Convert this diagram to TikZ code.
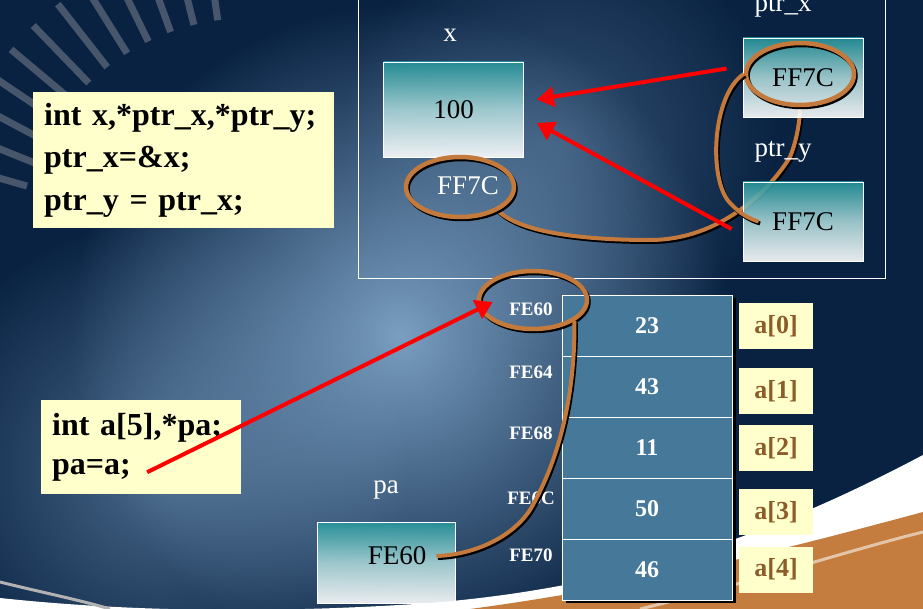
\documentclass[tikz,border=0pt]{standalone}
\usepackage{fontspec}
\setmainfont{Liberation Serif}
\usetikzlibrary{arrows.meta,shapes,fadings}

\definecolor{slidebg}{RGB}{9,34,66}
\definecolor{glow}{RGB}{150,190,225}
\definecolor{notepaper}{RGB}{255,255,204}
\definecolor{cellblue}{RGB}{69,120,153}
\definecolor{tealtop}{RGB}{38,148,154}
\definecolor{rope}{RGB}{196,122,60}
\definecolor{idxbrown}{RGB}{140,92,42}
\definecolor{swoosh}{RGB}{196,125,62}

\tikzfading[name=glowfade,inner color=transparent!0,outer color=transparent!100]

\pgfdeclarelayer{back}
\pgfsetlayers{back,main}

\begin{document}
\begin{tikzpicture}
  [x=1pt,y=-1pt,every node/.style={inner sep=0pt},
   codebox/.style={fill=notepaper,align=left,inner xsep=11pt,
     font=\fontsize{32}{42.5}\selectfont\bfseries},
   varbox/.style={draw=white,line width=.8pt,top color=tealtop,bottom color=white,
     middle color=tealtop!40!white,fill opacity=.9,text opacity=1,
     minimum width=140pt,minimum height=95pt,font=\fontsize{27}{30}\selectfont},
   tag/.style={text=white,font=\fontsize{27}{30}\selectfont},
   addr/.style={text=white,font=\fontsize{19}{20}\selectfont\bfseries},
   cellbox/.style={draw=white,line width=.8pt,fill=cellblue,text=white,
     minimum width=170pt,minimum height=61pt,font=\fontsize{24}{26}\selectfont\bfseries,
     preaction={fill=black,transform canvas={shift={(4pt,-3pt)}}}},
   idx/.style={fill=notepaper,text=idxbrown,minimum width=74pt,minimum height=46pt,
     font=\fontsize{26}{28}\selectfont\bfseries},
   ring/.style={ellipse,draw=rope,line width=4.5pt,minimum width=108pt,minimum height=60pt,
     preaction={draw=black,line width=4.5pt,transform canvas={shift={(1.5pt,-2pt)}}}},
   link/.style={draw=rope,line width=4pt,
     preaction={draw=black,line width=4pt,transform canvas={shift={(1.5pt,-2pt)}}}},
   ptrarrow/.style={draw=red,line width=4pt,arrows={-{Triangle[length=17pt,width=20pt]}}}]

  \useasboundingbox (0,0) rectangle (923,609);
  \clip (0,0) rectangle (923,609);

  % slide background
  \begin{pgfonlayer}{back}
  \fill[slidebg] (0,0) rectangle (923,609);
  \fill[glow,path fading=glowfade,opacity=.8] (400,335) circle (330pt);
  \fill[glow,path fading=glowfade,opacity=.45] (160,470) circle (250pt);
  \fill[glow,path fading=glowfade,opacity=.3] (560,140) circle (220pt);
  \foreach \a in {196,202,...,262}
    \draw[gray!70,opacity=.4,line width=7pt] (250,250) ++(\a:232) -- ++(\a:80);
  \fill[white] (0,609) -- (0,598) .. controls (150,614) and (300,612) .. (430,603)
    .. controls (650,585) and (800,520) .. (923,455) -- (923,609) -- cycle;
  \fill[swoosh] (470,609) .. controls (650,585) and (800,545) .. (923,512) -- (923,609) -- cycle;
  \draw[swoosh!45!white,line width=3pt] (640,609) .. controls (760,580) and (850,550) .. (923,532);
  \draw[gray!60,line width=3pt] (0,582) .. controls (40,592) and (80,600) .. (110,609);
  \end{pgfonlayer}

  \draw[white,line width=.8pt] (358,-5) rectangle (885,278);

  % code
  \node[codebox,anchor=north west,minimum height=136pt,text width=279pt] (code1) at (33,92)
    {int x,*ptr\_x,*ptr\_y;\\ ptr\_x=\&x;\\ ptr\_y = ptr\_x;};
  \node[codebox,anchor=north west,minimum height=94pt,text width=178pt,
    font=\fontsize{32}{39}\selectfont\bfseries] (code2) at (41,400)
    {int a[5],*pa;\\ pa=a;};

  % variables
  \node[tag] (xname) at (450,35) {x};
  \node[varbox] (xbox) at (453.5,109.5) {100};
  \node[tag] (xaddr) at (468,186) {FF7C};
  \node[ring] (xring) at (460,187) {};

  \node[tag] (ptrxname) at (783,7) {ptr\_x};
  \node[varbox,minimum width=120pt,minimum height=79pt] (ptrxbox) at (803,77.5) {FF7C};
  \node[ring,minimum height=62pt] (ptrxring) at (800,74) {};

  \node[tag] (ptryname) at (783,152) {ptr\_y};
  \node[varbox,minimum width=120pt,minimum height=79pt] (ptrybox) at (803,221.5) {FF7C};

  \node[tag] (paname) at (386,490) {pa};
  \node[varbox,minimum width=138pt,minimum height=81pt] (pabox) at (386.5,562.5) {};
  \node[font=\fontsize{27}{30}\selectfont] (paval) at (397,556) {FE60};

  % array
  \node[cellbox] (c0) at (647,325.5) {23};
  \node[cellbox] (c1) at (647,386.5) {43};
  \node[cellbox] (c2) at (647,447.5) {11};
  \node[cellbox] (c3) at (647,508.5) {50};
  \node[cellbox] (c4) at (647,569.5) {46};

  \node[addr] (fe60) at (531,309) {FE60};
  \node[addr] (fe64) at (531,372) {FE64};
  \node[addr] (fe68) at (531,433) {FE68};
  \node[addr] (fe6c) at (531,498) {FE6C};
  \node[addr] (fe70) at (531,555) {FE70};
  \node[ring,minimum height=58pt] (fering) at (533,300) {};

  \node[idx] (a0) at (776,326) {a[0]};
  \node[idx] (a1) at (776,391) {a[1]};
  \node[idx] (a2) at (776,448) {a[2]};
  \node[idx] (a3) at (776,512) {a[3]};
  \node[idx] (a4) at (776,569.5) {a[4]};

  % links
  \begin{pgfonlayer}{back}
  \draw[link] (xring.-32) .. controls (520,232) and (580,240) .. (650,240)
    .. controls (720,240) and (770,190) .. (790,157)
    .. controls (797,140) and (800,120) .. (ptrxring.south);
  \end{pgfonlayer}
  \draw[link] (ptrxring.west) .. controls (712,95) and (708,180) .. (730,203)
    .. controls (740,214) and (750,219) .. ([xshift=16pt]ptrybox.west);
  \draw[link] (fering.-27) .. controls (575,380) and (565,450) .. (530,510)
    .. controls (510,540) and (470,555) .. ([xshift=10pt]paval.east);

  \draw[ptrarrow] ([xshift=-16pt,yshift=9pt]ptrxbox.west) -- ([xshift=13pt,yshift=10pt]xbox.east);
  \draw[ptrarrow] ([xshift=-11pt,yshift=-7.5pt]ptrybox.west) -- ([xshift=13pt,yshift=-13.5pt]xbox.east);
  \draw[ptrarrow] ([xshift=6pt,yshift=-25pt]code2.center) -- ([xshift=16pt,yshift=-2pt]fering.west);
\end{tikzpicture}
\end{document}
